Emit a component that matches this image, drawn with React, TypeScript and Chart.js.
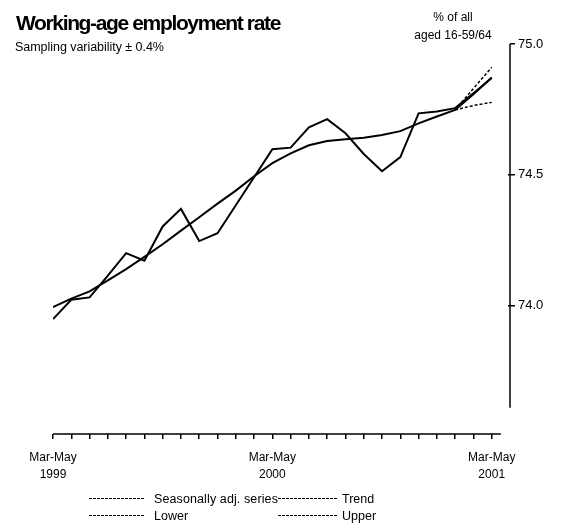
import React, { useEffect, useRef } from "react";
import { Chart, registerables } from "chart.js";

Chart.register(...registerables);

const FONT = "'Liberation Sans', Arial, sans-serif";

const seasonallyAdj = [
  73.949, 74.023, 74.032, 74.115, 74.201, 74.172, 74.303, 74.37, 74.247, 74.277,
  74.384, 74.491, 74.598, 74.604, 74.682, 74.713, 74.659, 74.58, 74.514, 74.568,
  74.735, 74.742, 74.755, 74.812, 74.87,
];
const trend = [
  73.995, 74.027, 74.055, 74.097, 74.14, 74.187, 74.235, 74.287, 74.338, 74.39,
  74.44, 74.495, 74.545, 74.582, 74.613, 74.629, 74.636, 74.642, 74.652, 74.667,
  74.697, 74.723, 74.748, 74.808, 74.872,
];
const bandStart = 22;
const lower = [74.748, 74.765, 74.777];
const upper = [74.748, 74.83, 74.911];

const xTickPositions = [0, 12, 24];
const xTickLabels = [
  ["Mar-May", "1999"],
  ["Mar-May", "2000"],
  ["Mar-May", "2001"],
];
const yTicks = [74.0, 74.5, 75.0];

const legendItems = ["Seasonally adj. series", "Trend", "Lower", "Upper"];

const titleText = "Working-age employment rate";
const subtitleText = "Sampling variability \u00b1 0.4%";
const unitLines = ["% of all", "aged 16-59/64"];

function fitText(ctx: CanvasRenderingContext2D, text: string, x: number, y: number, width: number) {
  (ctx as any).letterSpacing = "0px";
  const w = ctx.measureText(text).width;
  const ls = (width - w) / text.length;
  (ctx as any).letterSpacing = ls.toFixed(2) + "px";
  ctx.fillText(text, x, y);
  (ctx as any).letterSpacing = "0px";
}

const decorPlugin = {
  id: "decor",
  afterDraw(chart: any) {
    const ctx: CanvasRenderingContext2D = chart.ctx;
    const xs = chart.scales.x;
    const ys = chart.scales.y;
    const area = chart.chartArea;
    ctx.save();
    ctx.strokeStyle = "#000";
    ctx.lineWidth = 1.5;
    ctx.setLineDash([]);
    ctx.beginPath();
    ctx.moveTo(xs.getPixelForValue(0), area.bottom);
    ctx.lineTo(xs.getPixelForValue(24.5), area.bottom);
    ctx.stroke();
    ctx.beginPath();
    ctx.moveTo(area.right, ys.getPixelForValue(75.0));
    ctx.lineTo(area.right, ys.getPixelForValue(73.61));
    ctx.stroke();
    // small inner tick stubs
    ctx.lineWidth = 1.5;
    [74.0, 74.5].forEach((v) => {
      const y = ys.getPixelForValue(v);
      ctx.beginPath();
      ctx.moveTo(area.right - 2, y);
      ctx.lineTo(area.right, y);
      ctx.stroke();
    });

    ctx.fillStyle = "#000";
    ctx.textBaseline = "alphabetic";
    ctx.textAlign = "left";
    ctx.font = "bold 21px " + FONT;
    fitText(ctx, titleText, 16, 30, 264);
    ctx.font = "12.5px " + FONT;
    fitText(ctx, subtitleText, 15, 51, 149);

    ctx.textAlign = "center";
    ctx.font = "12px " + FONT;
    ctx.fillText(unitLines[0], 453, 21);
    ctx.fillText(unitLines[1], 453, 39);

    // legend
    ctx.textAlign = "left";
    ctx.font = "12.5px " + FONT;
    const rows = [503, 520];
    const cols = [
      [89, 145, 154],
      [278, 338, 342],
    ];
    legendItems.forEach((label, idx) => {
      const r = Math.floor(idx / 2);
      const c = idx % 2;
      const y = rows[r];
      const [x0, x1, tx] = cols[c];
      ctx.lineWidth = 1;
      ctx.setLineDash([3, 1]);
      ctx.beginPath();
      ctx.moveTo(x0, y - 4.5);
      ctx.lineTo(x1, y - 4.5);
      ctx.stroke();
      ctx.setLineDash([]);
      if (idx === 0) fitText(ctx, label, tx, y, 124);
      else ctx.fillText(label, tx, y);
    });
    ctx.restore();
  },
};

export default function App() {
  const ref = useRef<HTMLCanvasElement | null>(null);
  useEffect(() => {
    if (!ref.current) return;
    const chart = new Chart(ref.current, {
      type: "line",
      data: {
        datasets: [
          {
            label: "Seasonally adj. series",
            data: seasonallyAdj.map((v, i) => ({ x: i, y: v })),
            borderColor: "#000",
            borderWidth: 2,
            pointRadius: 0,
            tension: 0,
          },
          {
            label: "Trend",
            data: trend.map((v, i) => ({ x: i, y: v })),
            borderColor: "#000",
            borderWidth: 2,
            pointRadius: 0,
            tension: 0,
          },
          {
            label: "Lower",
            data: lower.map((v, i) => ({ x: bandStart + i, y: v })),
            borderColor: "#000",
            borderWidth: 1.5,
            borderDash: [3, 2],
            pointRadius: 0,
            tension: 0,
          },
          {
            label: "Upper",
            data: upper.map((v, i) => ({ x: bandStart + i, y: v })),
            borderColor: "#000",
            borderWidth: 1.5,
            borderDash: [3, 2],
            pointRadius: 0,
            tension: 0,
          },
        ],
      },
      options: {
        animation: false,
        responsive: false,
        devicePixelRatio: 1,
        layout: { padding: { left: 53, top: 44, right: 0, bottom: 0 } },
        plugins: {
          legend: { display: false },
          title: { display: false },
          tooltip: { enabled: false },
        },
        scales: {
          x: {
            type: "linear",
            position: "bottom",
            min: 0,
            max: 25,
            afterBuildTicks: (scale: any) => {
              scale.ticks = seasonallyAdj.map((_, i) => ({ value: i }));
            },
            afterFit: (scale: any) => {
              scale.height = 89;
            },
            grid: {
              drawOnChartArea: false,
              drawTicks: true,
              tickLength: 5,
              color: "#000",
              lineWidth: 1.5,
            },
            border: { display: false },
            ticks: {
              autoSkip: false,
              maxRotation: 0,
              minRotation: 0,
              padding: 11,
              color: "#000",
              font: { family: FONT, size: 12, lineHeight: 1.35 },
              callback: (v: any) => {
                const k = xTickPositions.indexOf(Number(v));
                return k >= 0 ? xTickLabels[k] : "";
              },
            },
          },
          y: {
            type: "linear",
            position: "right",
            min: 73.51,
            max: 75.0,
            afterBuildTicks: (scale: any) => {
              scale.ticks = yTicks.map((v) => ({ value: v }));
            },
            afterFit: (scale: any) => {
              scale.width = 51;
            },
            grid: {
              drawOnChartArea: false,
              drawTicks: true,
              tickLength: 5,
              color: "#000",
              lineWidth: 1.5,
            },
            border: { display: false },
            ticks: {
              padding: 3,
              color: "#000",
              font: { family: FONT, size: 13 },
              callback: (v: any) => Number(v).toFixed(1),
            },
          },
        },
      },
      plugins: [decorPlugin],
    } as any);
    return () => chart.destroy();
  }, []);
  return (
    <div style={{ position: "fixed", left: 0, top: 0, width: 561, height: 523, background: "#fff" }}>
      <canvas ref={ref} width={561} height={523} style={{ display: "block" }} />
    </div>
  );
}
